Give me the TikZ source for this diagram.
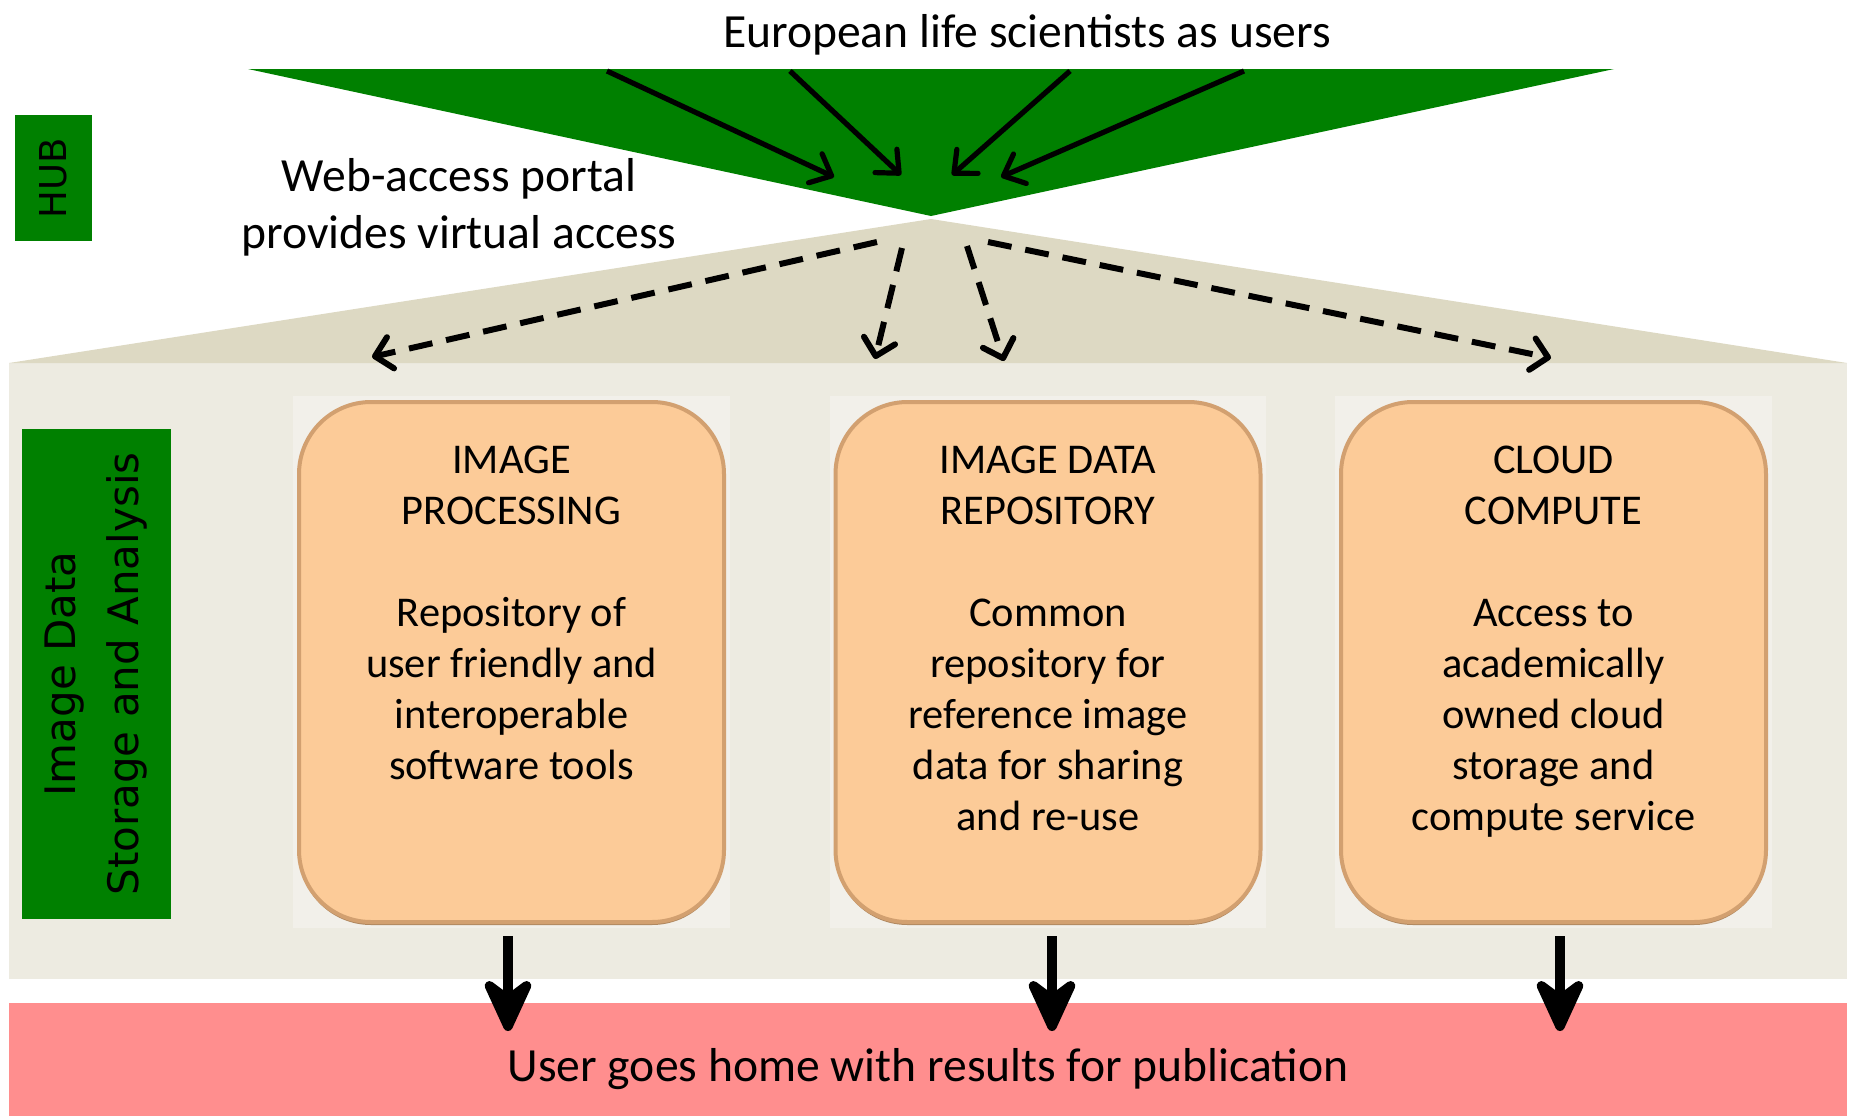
\documentclass[tikz,border=0pt]{standalone}
\usepackage{fontspec}
\setmainfont{Carlito}
\newfontfamily\verd{DejaVu Sans}
\usetikzlibrary{arrows.meta}
\definecolor{hubgreen}{RGB}{0,128,0}
\definecolor{tanfill}{RGB}{221,217,195}
\definecolor{panel}{RGB}{237,235,225}
\definecolor{panelhi}{RGB}{242,240,234}
\definecolor{peach}{RGB}{252,203,152}
\definecolor{peachedge}{RGB}{210,160,112}
\definecolor{peachshadow}{RGB}{176,136,96}
\definecolor{pinkband}{RGB}{255,142,142}
\begin{document}
\begin{tikzpicture}[x=0.5pt,y=-0.5pt,
  svc/.style={draw=peachedge, line width=2pt, fill=peach, rounded corners=36pt,
    minimum width=212.5pt, minimum height=260pt, inner sep=0pt},
  svcshadow/.style={fill=peachshadow, rounded corners=36pt,
    minimum width=212.5pt, minimum height=260pt, inner sep=0pt},
  svctext/.style={anchor=base, align=center, inner sep=0pt,
    font=\fontsize{21.2pt}{25.5pt}\selectfont},
  bigtext/.style={inner sep=0pt, font=\fontsize{23.8pt}{28.5pt}\selectfont},
  userarrow/.style={line width=2.6pt, -{Straight Barb[length=9pt,width=16pt,round]}},
  dasharrow/.style={line width=3pt, dash pattern=on 12pt off 7pt,
    -{Straight Barb[length=8pt,width=16pt,round]}},
  bigarrow/.style={line width=4.75pt, -{Stealth[length=33pt,width=30pt,inset=11pt,round]}},
  label/.style={fill=hubgreen, inner sep=0pt, rotate=90}]
\useasboundingbox (0,0) rectangle (1854,1119);
% background shapes
\fill[panel] (9,363) rectangle (1847,979);
\fill[pinkband] (9,1003) rectangle (1847,1116);
\fill[tanfill] (9,363) -- (931,219) -- (1847,363) -- cycle;
\fill[hubgreen] (248,69) -- (1614,69) -- (931,216) -- cycle;
% lighter areas behind boxes
\fill[panelhi] (293,396) rectangle (730,928);
\fill[panelhi] (830,396) rectangle (1266,928);
\fill[panelhi] (1335,396) rectangle (1772,928);
% side labels
\node[label, minimum width=63pt, minimum height=38.5pt, font=\verd\fontsize{18.5pt}{22pt}\selectfont]
  (hub) at (53.5,178) {HUB};
\node[label, minimum width=245pt, minimum height=74.5pt, align=center,
  font=\verd\fontsize{21pt}{31.5pt}\selectfont]
  (ida) at (96.5,674) {Image Data\\Storage and Analysis};
% texts
\node[bigtext, anchor=base] (users) at (1027,47) {European life scientists as users};
\node[bigtext, anchor=base, align=center] (portal) at (459,248) {Web-access portal\\provides virtual access};
\node[bigtext, anchor=base] (home) at (928,1081) {User goes home with results for publication};
% service boxes
\node[svcshadow] (q1) at (511.5,665) {};
\node[svcshadow] (q2) at (1048,665) {};
\node[svcshadow] (q3) at (1553.5,665) {};
\node[svc] (p1) at (511.5,662) {};
\node[svc] (p2) at (1048,662) {};
\node[svc] (p3) at (1553.5,662) {};
\node[svctext] (t1) at (511.5,779) {IMAGE\\PROCESSING\\[25.5pt]Repository of\\user friendly and\\interoperable\\software tools};
\node[svctext] (t2) at (1048,830) {IMAGE DATA\\REPOSITORY\\[25.5pt]Common\\repository for\\reference image\\data for sharing\\and re-use};
\node[svctext] (t3) at (1553.5,830) {CLOUD\\COMPUTE\\[25.5pt]Access to\\academically\\owned cloud\\storage and\\compute service};
% user arrows
\coordinate (u1) at (607,71);  \coordinate (h1) at (834,177);
\coordinate (u2) at (790,71);  \coordinate (h2) at (901,175);
\coordinate (u3) at (1070,71); \coordinate (h3) at (952,175);
\coordinate (u4) at (1244,71); \coordinate (h4) at (1001,177);
\draw[userarrow] (u1) -- (h1);
\draw[userarrow] (u2) -- (h2);
\draw[userarrow] (u3) -- (h3);
\draw[userarrow] (u4) -- (h4);
% portal dashed arrows
\coordinate (d1) at (877,242);  \coordinate (e1) at (372,357);
\coordinate (d2) at (902,248);  \coordinate (e2) at (875,359);
\coordinate (d3) at (967,246);  \coordinate (e3) at (1004,361);
\coordinate (d4) at (988,242);  \coordinate (e4) at (1551,358);
\draw[dasharrow] (d1) -- (e1);
\draw[dasharrow] (d2) -- (e2);
\draw[dasharrow] (d3) -- (e3);
\draw[dasharrow] (d4) -- (e4);
% result arrows
\coordinate (s1) at (508,936);  \coordinate (r1) at (508,1031);
\coordinate (s2) at (1052,936); \coordinate (r2) at (1052,1031);
\coordinate (s3) at (1560,936); \coordinate (r3) at (1560,1031);
\draw[bigarrow] (s1) -- (r1);
\draw[bigarrow] (s2) -- (r2);
\draw[bigarrow] (s3) -- (r3);
\end{tikzpicture}
\end{document}
